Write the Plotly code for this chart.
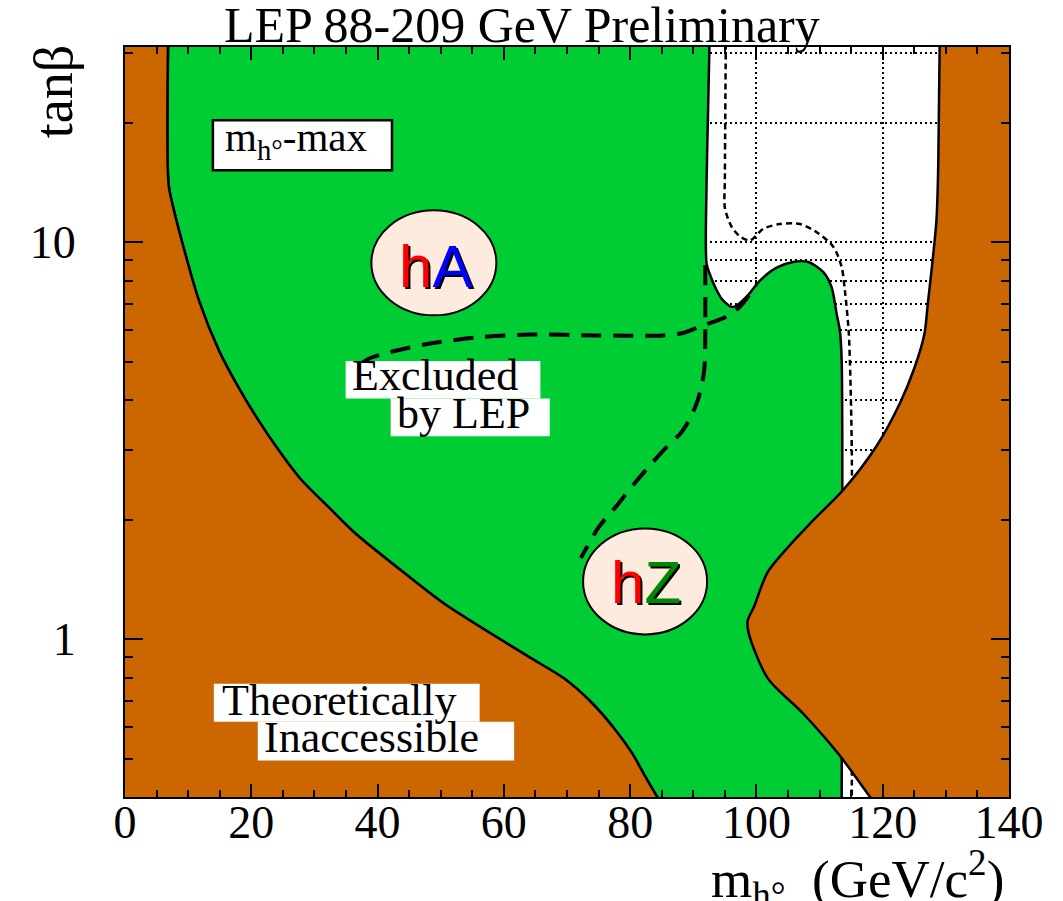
import math
import plotly.graph_objects as go

# ---- axis limits -------------------------------------------------------
M_MIN, M_MAX = 0, 140          # m_h (GeV/c^2)
TB_MIN, TB_MAX = 0.4, 31       # tan(beta)

# corners used to close the filled regions outside the visible frame
X_LO, X_HI = -10, 150
TB_LO, TB_HI = 0.25, 50

# ---- theoretically inaccessible, low-mass side (top -> bottom) ---------
left_m = [6.9, 6.9, 7.6, 9.0, 11.7, 14.9, 17.7, 20.9, 24.6, 27.8, 32.6,
          36.4, 44.4, 50.8, 63.7, 69.5, 73.8, 77.6, 80.3, 82.4, 84.3, 85.6]
left_tb = [40, 14.0, 12.3, 10.06, 7.13, 5.32, 4.38, 3.60, 2.95, 2.53, 2.12,
           1.85, 1.46, 1.22, 0.907, 0.796, 0.694, 0.592, 0.516, 0.450, 0.40, 0.37]

# ---- theoretically inaccessible, high-mass side (top -> bottom) --------
right_m = [129.1, 128.8, 128.5, 127.1, 126.6, 125.0, 122.8, 119.0, 113.7,
           108.3, 101.8, 99.65, 98.6, 98.8, 101.8, 107.2, 113.1, 118.0, 119.6]
right_tb = [40, 15.8, 11.3, 6.89, 5.86, 4.81, 3.95, 3.06, 2.37,
            1.94, 1.475, 1.21, 1.11, 1.03, 0.796, 0.654, 0.511, 0.40, 0.37]

# ---- right edge of the region excluded by LEP (top -> bottom) ----------
excl_m = [92.7, 92.3, 92.1, 92.1, 92.6, 93.7, 94.7, 96.3, 98.4, 100.6,
          103.2, 105.8, 108.2, 110.6, 111.9, 112.7, 113.2, 113.5, 113.5]
excl_tb = [40, 20, 14, 8.84, 8.32, 7.56, 7.13, 6.86, 7.27, 8.01,
           8.62, 8.91, 8.91, 8.4, 7.7, 6.6, 6.0, 5.04, 0.37]

# ---- expected exclusion limit (thin dashed) -----------------------------
exp_m = [95.2, 95.0, 95.0, 96.1, 97.5, 99.0, 101.1, 103.7, 106.9, 109.5,
         112.2, 113.5, 114.0, 114.6, 114.8, 115.1, 115.1]
exp_tb = [40, 14.3, 12.2, 10.9, 10.3, 10.1, 10.8, 11.1, 11.1, 10.6,
          9.72, 8.65, 7.57, 6.0, 5.04, 3.0, 0.37]

# ---- channel separation lines (thick dashed) ----------------------------
ha_m = [37.4, 38.7, 41.9, 48.3, 56.2, 64.1, 74.7, 85.2, 88.4, 91.0, 95.3,
        97.4, 100.0]
ha_tb = [4.94, 5.09, 5.28, 5.55, 5.76, 5.85, 5.82, 5.82, 5.90, 6.12, 6.49,
         6.88, 7.8]
hz_m = [91.9, 91.9, 91.8, 91.4, 90.6, 89.5, 88.0, 85.8, 83.5, 81.0, 78.1,
        75.0, 72.2]
hz_tb = [8.75, 6.0, 4.9, 4.4, 3.95, 3.6, 3.3, 3.05, 2.78, 2.5, 2.19,
         1.91, 1.60]

# ---- tick marks ---------------------------------------------------------
y_major = [1, 10]
y_major_text = ["1", "10"]
y_minor = [0.5, 0.6, 0.7, 0.8, 0.9, 2, 3, 4, 5, 6, 7, 8, 9, 20, 30]

BROWN = "#CC6600"
GREEN = "#00CC33"
PEACH = "#FDECDE"
SERIF = "Liberation Serif, Times New Roman, serif"
SANS = "Liberation Sans, Arial, sans-serif"

EDGE = dict(color="black", width=2.5, shape="spline", smoothing=0.8)

fig = go.Figure()

# expected limit sits underneath the filled regions
fig.add_trace(go.Scatter(x=exp_m, y=exp_tb, mode="lines",
                         line=dict(color="black", width=2.5, dash="6px,4px",
                                   shape="spline", smoothing=0.8)))

# excluded region: its right edge, then back up the theoretical boundary
green_x = excl_m + [excl_m[-1], left_m[-1]] + left_m[::-1] + [left_m[0], excl_m[0]]
green_y = excl_tb + [TB_LO, TB_LO] + left_tb[::-1] + [TB_HI, TB_HI]
fig.add_trace(go.Scatter(x=green_x, y=green_y, mode="lines", fill="toself",
                         fillcolor=GREEN, line=EDGE))

# theoretically inaccessible regions
fig.add_trace(go.Scatter(x=left_m + [left_m[-1], X_LO, X_LO, left_m[0]],
                         y=left_tb + [TB_LO, TB_LO, TB_HI, TB_HI],
                         mode="lines", fill="toself", fillcolor=BROWN, line=EDGE))
fig.add_trace(go.Scatter(x=right_m + [right_m[-1], X_HI, X_HI, right_m[0]],
                         y=right_tb + [TB_LO, TB_LO, TB_HI, TB_HI],
                         mode="lines", fill="toself", fillcolor=BROWN, line=EDGE))

# hA / hZ dominated parts of the exclusion
for xs, ys in ((ha_m, ha_tb), (hz_m, hz_tb)):
    fig.add_trace(go.Scatter(x=xs, y=ys, mode="lines",
                             line=dict(color="black", width=4, dash="20px,12px",
                                       shape="spline", smoothing=0.8)))

shapes = [
    # label boxes
    dict(type="rect", xref="paper", yref="paper", x0=0.0994, x1=0.302,
         y0=0.8356, y1=0.9022, fillcolor="white", line=dict(color="black", width=2.5)),
    dict(type="rect", xref="paper", yref="paper", x0=0.2496, x1=0.4699,
         y0=0.5313, y1=0.5814, fillcolor="white", line=dict(width=0)),
    dict(type="rect", xref="paper", yref="paper", x0=0.3005, x1=0.4805,
         y0=0.4811, y1=0.5313, fillcolor="white", line=dict(width=0)),
    dict(type="rect", xref="paper", yref="paper", x0=0.1005, x1=0.4012,
         y0=0.1003, y1=0.1509, fillcolor="white", line=dict(width=0)),
    dict(type="rect", xref="paper", yref="paper", x0=0.1502, x1=0.4402,
         y0=0.0486, y1=0.1003, fillcolor="white", line=dict(width=0)),
    # channel bubbles
    dict(type="circle", xref="paper", yref="paper", x0=0.2787, x1=0.4201,
         y0=0.6423, y1=0.7822, fillcolor=PEACH, line=dict(color="black", width=2)),
    dict(type="circle", xref="paper", yref="paper", x0=0.5182, x1=0.6585,
         y0=0.2168, y1=0.3581, fillcolor=PEACH, line=dict(color="black", width=2)),
]
for s in shapes:
    s["layer"] = "above"

L = math.log10
ann = []


def text(x, y, s, size, family=SERIF, color="black", xanchor="left", **kw):
    ann.append(dict(x=x, y=y, text=s, showarrow=False, xanchor=xanchor,
                    yanchor=kw.pop("yanchor", "middle"),
                    font=dict(family=family, size=size, color=color), **kw))


text(15.45, 1.2569, "m<sub>h°</sub>-max", 41)
text(35.6, 0.6637, "Excluded", 44)
text(42.7, 0.5672, "by LEP", 44)
text(14.98, -0.1547, "Theoretically", 44)
text(21.63, -0.2484, "Inaccessible", 44)

# channel names with a dark drop shadow
for cx, cy, lbl in ((49.2, 0.9391,
                     "<span style='color:#ff0000'>h</span><span style='color:#0000ff'>A</span>"),
                    (82.46, 0.142,
                     "<span style='color:#ff0000'>h</span><span style='color:#008800'>Z</span>")):
    text(cx, cy, lbl.replace("#ff0000", "#000000").replace("#0000ff", "#000000")
         .replace("#008800", "#000000"), 60, family=SANS, xanchor="center",
         xshift=2, yshift=-2)
    text(cx, cy, lbl, 60, family=SANS, xanchor="center")

# title and axis titles
ann.append(dict(xref="paper", yref="paper", x=0.4489, y=1.0290, showarrow=False,
                text="LEP 88-209 GeV Preliminary", xanchor="center", yanchor="middle",
                font=dict(family=SERIF, size=50, color="black")))
ann.append(dict(xref="paper", yref="paper", x=0.9966, y=-0.1093, showarrow=False,
                text="m<sub>h°</sub>\u00a0\u00a0(GeV/c<sup>2</sup>)", xanchor="right",
                yanchor="middle", font=dict(family=SERIF, size=53, color="black")))
ann.append(dict(xref="paper", yref="paper", x=-0.080, y=0.940, showarrow=False,
                text="tanβ", textangle=-90, xanchor="center", yanchor="middle",
                font=dict(family=SERIF, size=54, color="black")))

for a in ann:
    a.setdefault("xref", "x")
    a.setdefault("yref", "y")

axis_common = dict(showline=True, linecolor="black", linewidth=2, mirror="ticks",
                   ticks="inside", tickcolor="black", tickwidth=2,
                   showgrid=True, gridcolor="black", gridwidth=2, griddash="2px,3px",
                   zeroline=False,
                   tickfont=dict(family=SERIF, size=46, color="black"))

fig.update_layout(
    width=1063, height=901, autosize=False,
    margin=dict(l=125, r=54, t=47, b=104),
    paper_bgcolor="white", plot_bgcolor="white",
    showlegend=False,
    xaxis=dict(range=[M_MIN, M_MAX], tickmode="linear", tick0=0, dtick=20,
               ticklen=13, ticklabelstandoff=-16,
               minor=dict(dtick=5, ticks="inside", ticklen=7, tickwidth=2,
                          tickcolor="black", showgrid=False),
               **axis_common),
    yaxis=dict(type="log", range=[L(TB_MIN), L(TB_MAX)],
               tickmode="array", tickvals=y_major, ticktext=y_major_text,
               ticklen=18, ticklabelstandoff=38,
               minor=dict(tickmode="array", tickvals=y_minor, ticks="inside",
                          ticklen=8, tickwidth=2, tickcolor="black",
                          showgrid=True, gridcolor="black", gridwidth=2,
                          griddash="2px,3px"),
               **axis_common),
    shapes=shapes,
    annotations=ann,
)

fig.write_html("out.html")
